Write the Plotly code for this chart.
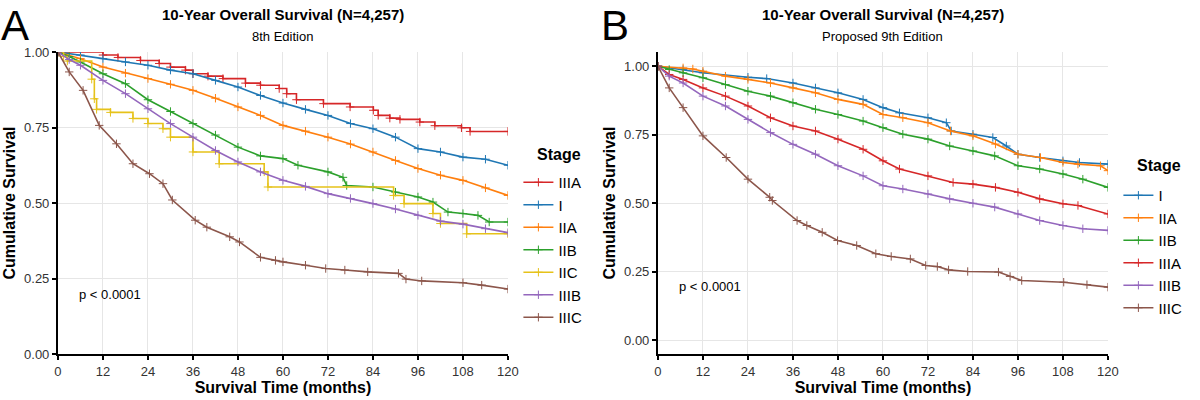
import plotly.graph_objects as go

# ---- Panel A: 8th edition ----
a_IIIA_t = [0, 12, 16, 22, 27, 30, 34, 36, 40, 44, 50, 54, 59, 61, 63.6, 70.8, 77.9, 84.1, 85.4, 88.5, 91.2, 96.5, 100.5, 107.6, 109.9, 120]
a_IIIA_s = [1.0, 0.99, 0.982, 0.972, 0.962, 0.95, 0.94, 0.928, 0.92, 0.912, 0.897, 0.89, 0.879, 0.862, 0.842, 0.829, 0.818, 0.807, 0.79, 0.781, 0.777, 0.768, 0.756, 0.749, 0.737, 0.737]

a_I_t = [0, 6, 12, 18, 24, 30, 36, 42, 48, 54, 60, 66, 72, 78, 84, 90, 96, 102, 108, 114, 120]
a_I_s = [1.0, 0.99, 0.978, 0.967, 0.956, 0.94, 0.928, 0.906, 0.884, 0.856, 0.831, 0.81, 0.79, 0.763, 0.746, 0.718, 0.68, 0.669, 0.652, 0.645, 0.625]

a_IIA_t = [0, 6, 12, 18, 24, 30, 36, 42, 48, 54, 60, 66, 72, 78, 84, 90, 96, 102, 108, 114, 120]
a_IIA_s = [1.0, 0.978, 0.95, 0.93, 0.912, 0.893, 0.873, 0.847, 0.818, 0.79, 0.757, 0.738, 0.718, 0.695, 0.669, 0.641, 0.614, 0.592, 0.575, 0.55, 0.525]

a_IIB_t = [0, 3, 6, 12, 18, 24, 30, 36, 42, 48, 54, 60, 64, 72, 76, 77, 84, 90, 96, 100, 104, 108, 112, 115, 120]
a_IIB_s = [1.0, 0.985, 0.967, 0.928, 0.895, 0.842, 0.803, 0.763, 0.725, 0.685, 0.656, 0.647, 0.625, 0.603, 0.585, 0.558, 0.553, 0.536, 0.52, 0.503, 0.47, 0.465, 0.459, 0.437, 0.437]

a_IIC_t = [0, 1.5, 2.5, 9, 9.7, 10.3, 14, 20, 24, 28, 30, 36, 43, 55, 56, 89.5, 92.3, 100, 102, 109, 120]
a_IIC_s = [1.0, 0.985, 0.97, 0.91, 0.845, 0.81, 0.80, 0.78, 0.763, 0.746, 0.718, 0.669, 0.63, 0.603, 0.553, 0.525, 0.498, 0.465, 0.432, 0.398, 0.398]

a_IIIB_t = [0, 3, 6, 12, 18, 24, 30, 36, 42, 48, 54, 60, 66, 72, 78, 84, 90, 96, 102, 108, 114, 120]
a_IIIB_s = [1.0, 0.975, 0.956, 0.906, 0.862, 0.812, 0.763, 0.718, 0.674, 0.636, 0.603, 0.575, 0.555, 0.531, 0.515, 0.498, 0.48, 0.459, 0.44, 0.43, 0.415, 0.402]

a_IIIC_t = [0, 3, 6.7, 11, 15.6, 20, 24.4, 28, 30.5, 36.6, 39.7, 45.8, 48.4, 54, 58, 60, 66, 71.4, 76.5, 82.6, 90.8, 92.8, 97, 108, 113, 120]
a_IIIC_s = [1.0, 0.934, 0.873, 0.757, 0.696, 0.63, 0.597, 0.564, 0.51, 0.443, 0.42, 0.388, 0.371, 0.32, 0.31, 0.305, 0.294, 0.283, 0.278, 0.272, 0.267, 0.248, 0.242, 0.236, 0.228, 0.215]

# ---- Panel B: proposed 9th edition ----
b_I_t = [0, 6.7, 12, 24, 29, 36, 42, 48, 54.7, 60, 64.4, 72, 76.9, 78.2, 84, 89.3, 92.9, 96, 101.8, 108, 112.4, 120]
b_I_s = [1.0, 0.988, 0.976, 0.96, 0.955, 0.939, 0.921, 0.903, 0.879, 0.849, 0.83, 0.812, 0.794, 0.764, 0.752, 0.74, 0.709, 0.679, 0.667, 0.655, 0.649, 0.643]

b_IIA_t = [0, 6.7, 9.3, 12, 18, 24, 30, 36, 42, 48, 54.7, 60, 65.3, 72, 78, 84, 90, 96, 102, 108, 112, 118, 120]
b_IIA_s = [1.0, 0.994, 0.99, 0.982, 0.964, 0.952, 0.939, 0.921, 0.903, 0.879, 0.861, 0.824, 0.812, 0.794, 0.764, 0.746, 0.716, 0.679, 0.667, 0.649, 0.643, 0.637, 0.619]

b_IIB_t = [0, 3, 6.7, 12, 18, 24, 30, 36, 42, 48, 54.7, 60, 65.3, 72, 77.8, 84, 89.8, 96, 101.8, 108, 113.3, 120]
b_IIB_s = [1.0, 0.988, 0.976, 0.958, 0.933, 0.909, 0.891, 0.867, 0.843, 0.824, 0.8, 0.776, 0.752, 0.734, 0.709, 0.691, 0.673, 0.637, 0.625, 0.607, 0.588, 0.558]

b_IIIA_t = [0, 3, 6.7, 12, 18, 24, 30, 36, 42, 48, 54.7, 60, 64.4, 72, 78.7, 84, 90, 96, 101.8, 108, 112, 120]
b_IIIA_s = [1.0, 0.97, 0.952, 0.921, 0.891, 0.855, 0.812, 0.782, 0.764, 0.734, 0.697, 0.655, 0.625, 0.6, 0.576, 0.57, 0.558, 0.54, 0.516, 0.498, 0.492, 0.461]

b_IIIB_t = [0, 3, 6.7, 12, 18, 24, 30, 36, 42, 48, 54.7, 60, 65.3, 72, 77.8, 84, 89.8, 96, 101.8, 108, 113.3, 120]
b_IIIB_s = [1.0, 0.964, 0.939, 0.891, 0.855, 0.806, 0.758, 0.715, 0.679, 0.637, 0.6, 0.564, 0.552, 0.534, 0.516, 0.5, 0.486, 0.461, 0.437, 0.419, 0.407, 0.401]

b_IIIC_t = [0, 3, 6.7, 12, 18.2, 24, 29.8, 30.5, 37.1, 39.7, 43.8, 47.9, 53, 58.1, 62.2, 67.3, 71.4, 74.5, 77.5, 82.6, 90.8, 93.9, 97, 108.2, 114.4, 120]
b_IIIC_s = [1.0, 0.921, 0.849, 0.746, 0.667, 0.588, 0.522, 0.51, 0.437, 0.419, 0.394, 0.364, 0.346, 0.316, 0.306, 0.297, 0.273, 0.269, 0.257, 0.251, 0.249, 0.233, 0.218, 0.212, 0.203, 0.194]

x_ticks = [0, 12, 24, 36, 48, 60, 72, 84, 96, 108, 120]
y_ticks = [0, 0.25, 0.5, 0.75, 1.0]
y_tick_text = ["0.00", "0.25", "0.50", "0.75", "1.00"]

colors = {
    "IIIA": "#D62728", "I": "#1F77B4", "IIA": "#FF7F0E", "IIB": "#2CA02C",
    "IIC": "#E6C21A", "IIIB": "#9467BD", "IIIC": "#8C564B",
}

panel_a = [
    ("IIIA", a_IIIA_t, a_IIIA_s, "hv"),
    ("I", a_I_t, a_I_s, "linear"),
    ("IIA", a_IIA_t, a_IIA_s, "linear"),
    ("IIB", a_IIB_t, a_IIB_s, "linear"),
    ("IIC", a_IIC_t, a_IIC_s, "hv"),
    ("IIIB", a_IIIB_t, a_IIIB_s, "linear"),
    ("IIIC", a_IIIC_t, a_IIIC_s, "linear"),
]
panel_b = [
    ("I", b_I_t, b_I_s, "linear"),
    ("IIA", b_IIA_t, b_IIA_s, "linear"),
    ("IIB", b_IIB_t, b_IIB_s, "linear"),
    ("IIIA", b_IIIA_t, b_IIIA_s, "linear"),
    ("IIIB", b_IIIB_t, b_IIIB_s, "linear"),
    ("IIIC", b_IIIC_t, b_IIIC_s, "linear"),
]

FONT = "Liberation Sans, Arial, sans-serif"
fig = go.Figure()

for panel, xa, ya, leg in [(panel_a, "x", "y", "legend"), (panel_b, "x2", "y2", "legend2")]:
    for stage, t, s, shape in panel:
        c = colors[stage]
        fig.add_trace(go.Scatter(
            x=t, y=s, name=stage, xaxis=xa, yaxis=ya, legend=leg,
            mode="lines+markers", line=dict(color=c, width=1.6, shape=shape),
            marker=dict(symbol="cross-thin", size=6, line=dict(width=1, color=c), color=c),
            hoverinfo="x+y+name",
        ))

axis_common = dict(
    showgrid=True, gridcolor="#E6E6E6", gridwidth=1, zeroline=False,
    showline=True, linecolor="black", linewidth=2, automargin=False,
    ticks="outside", ticklen=4, tickwidth=1.5, tickcolor="black",
    tickfont=dict(family=FONT, size=13, color="#333333"),
)
xt = dict(text="Survival Time (months)", font=dict(family=FONT, size=16, color="black", weight="bold"), standoff=2)
yt = dict(text="Cumulative Survival", font=dict(family=FONT, size=16, color="black", weight="bold"), standoff=4)

leg_common = dict(xanchor="left", yanchor="top", itemwidth=30, tracegroupgap=0,
                  font=dict(family=FONT, size=15, color="black"))

fig.update_layout(
    width=1200, height=400,
    margin=dict(l=0, r=0, t=0, b=0, autoexpand=False),
    paper_bgcolor="white", plot_bgcolor="white",
    font=dict(family=FONT),
    xaxis=dict(domain=[0.0483, 0.4233], range=[0, 120], tickvals=x_ticks, anchor="y", title=xt, **axis_common),
    yaxis=dict(domain=[0.115, 0.87], range=[0, 1], tickvals=y_ticks, ticktext=y_tick_text, anchor="x", title=yt, **axis_common),
    xaxis2=dict(domain=[0.5483, 0.9233], range=[0, 120], tickvals=x_ticks, anchor="y2", title=xt, **axis_common),
    yaxis2=dict(domain=[0.115, 0.87], range=[-0.05, 1.052], tickvals=y_ticks, ticktext=y_tick_text, anchor="x2", title=yt, **axis_common),
    legend=dict(x=0.432, y=0.585, **leg_common),
    legend2=dict(x=0.932, y=0.5525, **leg_common),
    showlegend=True,
)

annots = [
    dict(text="A", x=-0.001, y=1.0, xanchor="left", yanchor="top", font=dict(size=42, color="black")),
    dict(text="B", x=0.499, y=1.0, xanchor="left", yanchor="top", font=dict(size=42, color="black")),
    dict(text="<b>10-Year Overall Survival (N=4,257)</b>", x=0.2358, y=0.965, xanchor="center", yanchor="middle", font=dict(size=15, color="black")),
    dict(text="<b>10-Year Overall Survival (N=4,257)</b>", x=0.7358, y=0.965, xanchor="center", yanchor="middle", font=dict(size=15, color="black")),
    dict(text="8th Edition", x=0.2358, y=0.908, xanchor="center", yanchor="middle", font=dict(size=13, color="black")),
    dict(text="Proposed 9th Edition", x=0.7358, y=0.908, xanchor="center", yanchor="middle", font=dict(size=13, color="black")),
    dict(text="<b>Stage</b>", x=0.4458, y=0.6125, xanchor="left", yanchor="middle", font=dict(size=16, color="black")),
    dict(text="<b>Stage</b>", x=0.9458, y=0.5875, xanchor="left", yanchor="middle", font=dict(size=16, color="black")),
]
for a in annots:
    fig.add_annotation(xref="paper", yref="paper", showarrow=False, font_family=FONT, **a)

fig.add_annotation(text="p < 0.0001", x=5, y=0.197, xref="x", yref="y", xanchor="left", showarrow=False,
                   font=dict(family=FONT, size=13, color="black"))
fig.add_annotation(text="p < 0.0001", x=5, y=0.197, xref="x2", yref="y2", xanchor="left", showarrow=False,
                   font=dict(family=FONT, size=13, color="black"))

# drop the default page margin so the 1200x400 figure sits flush in the window
fig.write_html("out.html", post_script="document.body.style.margin='0';",
               config={"displayModeBar": False})
